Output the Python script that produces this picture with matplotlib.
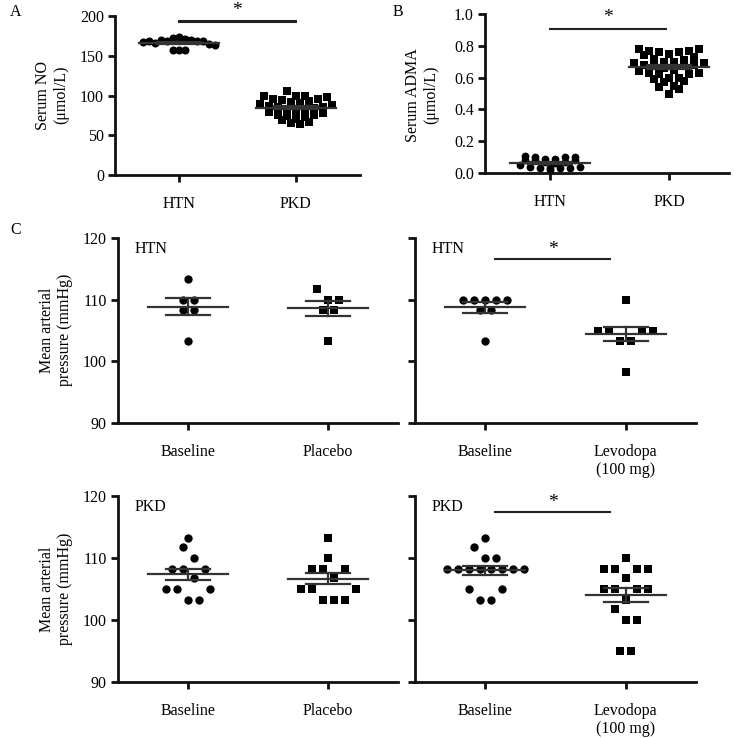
import numpy as np
import matplotlib
matplotlib.use("Agg")
import matplotlib.pyplot as plt

plt.rcParams['font.family'] = ['Liberation Serif', 'DejaVu Serif']

W, H = 734, 738

# ---------------- data ----------------
a_categories = ["HTN", "PKD"]
a_htn = [167, 168, 166, 170, 169, 172, 173, 171, 170, 169, 168, 165, 163, 157, 157, 157]
a_pkd = [106, 100, 99, 100, 98, 96, 95, 93, 94, 92, 90, 88, 89, 87, 86, 85, 84, 83, 82,
         80, 79, 78, 76, 75, 74, 73, 71, 69, 67, 65, 64]
a_yticks = [0, 50, 100, 150, 200]

b_categories = ["HTN", "PKD"]
b_htn = [0.11, 0.10, 0.10, 0.10, 0.09, 0.09, 0.08, 0.08, 0.08, 0.07, 0.07, 0.06, 0.05,
         0.04, 0.04, 0.03, 0.03, 0.03, 0.03, 0.02]
b_pkd = [0.78, 0.78, 0.77, 0.77, 0.76, 0.76, 0.75, 0.74, 0.73, 0.72, 0.71, 0.70, 0.70,
         0.69, 0.69, 0.68, 0.68, 0.67, 0.67, 0.66, 0.65, 0.64, 0.63, 0.63, 0.62, 0.62,
         0.60, 0.60, 0.59, 0.58, 0.57, 0.55, 0.54, 0.53, 0.50]
b_yticks = [0.0, 0.2, 0.4, 0.6, 0.8, 1.0]

c_yticks = [90, 100, 110, 120]
c_placebo_labels = ["Baseline", "Placebo"]
c_levodopa_labels = ["Baseline", "Levodopa\n(100 mg)"]

htn_base_placebo = [113.3, 110.0, 110.0, 108.3, 108.3, 103.3]
htn_placebo = [111.7, 110.0, 110.0, 108.3, 108.3, 103.3]
htn_base_levo = [110.0, 110.0, 110.0, 110.0, 110.0, 108.3, 108.3, 103.3]
htn_levo = [110.0, 105.0, 105.0, 105.0, 105.0, 103.3, 103.3, 98.3]

pkd_base_placebo = [113.3, 111.7, 110.0, 108.3, 108.3, 108.3, 106.7, 105.0, 105.0, 105.0,
                    103.3, 103.3]
pkd_placebo = [113.3, 110.0, 108.3, 108.3, 108.3, 106.7, 105.0, 105.0, 105.0, 103.3,
               103.3, 103.3]
pkd_base_levo = [113.3, 111.7, 110.0, 110.0, 108.3, 108.3, 108.3, 108.3, 108.3, 108.3,
                 108.3, 108.3, 105.0, 105.0, 103.3, 103.3]
pkd_levo = [110.0, 108.3, 108.3, 108.3, 108.3, 106.7, 105.0, 105.0, 105.0, 105.0,
            103.3, 101.7, 100.0, 100.0, 95.0, 95.0]

# ---------------- helpers ----------------
fig = plt.figure(figsize=(W / 100, H / 100), dpi=100)


def make_ax(left, top, right, bottom, xlim, ylim):
    ax = fig.add_axes([left / W, 1 - bottom / H, (right - left) / W, (bottom - top) / H])
    ax.set_xlim(*xlim)
    ax.set_ylim(*ylim)
    for s in ("top", "right"):
        ax.spines[s].set_visible(False)
    for s in ("left", "bottom"):
        ax.spines[s].set_linewidth(2.0)
        ax.spines[s].set_color("#111111")
    ax.tick_params(axis="both", direction="out", length=5, width=2.0, color="#111111",
                   labelsize=11.5, pad=3)
    ax.tick_params(axis="x", pad=10)
    ax.px_x = (right - left) / (xlim[1] - xlim[0])
    return ax


def swarm(ax, xc, vals, marker, ms, row_h, phase, sp_px, order="prism"):
    """Column scatter: values binned into rows; within a row the higher values go
    to the outer positions (prism) or keep list order (data)."""
    vals = np.asarray(vals, dtype=float)
    rows = np.floor((vals - phase) / row_h + 1e-6).astype(int)
    off = np.zeros(len(vals))
    for r in np.unique(rows):
        idx = np.where(rows == r)[0]
        n = len(idx)
        pos = (np.arange(n) - (n - 1) / 2) * sp_px / ax.px_x
        if order == "data":
            off[idx] = pos
            continue
        pos_order = sorted(range(n), key=lambda k: (-abs(round(pos[k], 6)), pos[k]))
        val_order = idx[np.argsort(-vals[idx], kind="stable")]
        for vi, pk in zip(val_order, pos_order):
            off[vi] = pos[pk]
    ax.plot(xc + off, vals, linestyle="none", marker=marker, ms=ms, color="black",
            markeredgewidth=0, clip_on=False, zorder=2)
    m = vals.mean()
    sem = vals.std(ddof=1) / np.sqrt(len(vals))
    mw = 40 / ax.px_x
    sw = 22 / ax.px_x
    kw = dict(color="#333333", lw=1.6, zorder=3, clip_on=False)
    ax.plot([xc - mw, xc + mw], [m, m], **kw)
    ax.plot([xc - sw, xc + sw], [m + sem, m + sem], **kw)
    ax.plot([xc - sw, xc + sw], [m - sem, m - sem], **kw)
    ax.plot([xc, xc], [m - sem, m + sem], **kw)


def sig(ax, x0, x1, y, ystar, lw=1.5, fs=14):
    ax.plot([x0, x1], [y, y], color="#222222", lw=lw, clip_on=False)
    ax.text((x0 + x1) / 2, ystar, "*", ha="center", va="center", fontsize=fs,
            clip_on=False)


# ---------------- Panel A ----------------
axA = make_ax(115, 16, 360, 175, (-0.55, 1.55), (0, 200))
axA.set_yticks(a_yticks)
axA.set_xticks([0, 1])
axA.set_xticklabels(a_categories)
swarm(axA, 0, a_htn, "o", 5.8, 15, 10, 6, order="data")
swarm(axA, 1, a_pkd, "s", 5.4, 10, 0, 9)
sig(axA, 0.0, 0.99, 194, 207, lw=2.2)
fig.text(52 / W, 1 - 95 / H, "Serum NO\n(μmol/L)", rotation=90, ha="center", va="center",
         fontsize=11.5, multialignment="center")
fig.text(10 / W, 1 - 12 / H, "A", fontsize=11.5, ha="left", va="center")

# ---------------- Panel B ----------------
axB = make_ax(485, 14, 729, 173, (-0.55, 1.5), (0, 1.0))
axB.set_yticks(b_yticks)
axB.set_yticklabels([f"{v:.1f}" for v in b_yticks])
axB.set_xticks([0, 1])
axB.set_xticklabels(b_categories)
swarm(axB, 0, b_htn, "o", 5.6, 0.03, 0.025, 10)
swarm(axB, 1, b_pkd, "s", 5.2, 0.05, 0.0, 10)
sig(axB, 0.0, 0.97, 0.906, 0.975)
fig.text(422 / W, 1 - 95 / H, "Serum ADMA\n(μmol/L)", rotation=90, ha="center",
         va="center", fontsize=11.5, multialignment="center")
fig.text(393 / W, 1 - 12 / H, "B", fontsize=11.5, ha="left", va="center")

# ---------------- Panel C ----------------
fig.text(10 / W, 1 - 230 / H, "C", fontsize=11.5, ha="left", va="center")


def c_panel(left, top, right, bottom, labels, g1, g2, tag, show_y, star):
    ax = make_ax(left, top, right, bottom, (-0.5, 1.5), (90, 120))
    ax.set_yticks(c_yticks)
    if not show_y:
        ax.set_yticklabels([])
    ax.set_xticks([0, 1])
    ax.set_xticklabels(labels)
    swarm(ax, 0, g1, "o", 6.0, 10 / 3, 89.1, 11)
    swarm(ax, 1, g2, "s", 5.8, 10 / 3, 89.1, 11)
    ax.text(-0.38, 118.2, tag, ha="left", va="center", fontsize=11.5)
    if star is not None:
        sig(ax, 0.07, 0.89, star, star + 1.6)
    return ax


c_panel(118, 238, 398, 423, c_placebo_labels, htn_base_placebo, htn_placebo, "HTN", True, None)
c_panel(415, 238, 696, 423, c_levodopa_labels, htn_base_levo, htn_levo, "HTN", False, 116.6)
c_panel(118, 496, 398, 682, c_placebo_labels, pkd_base_placebo, pkd_placebo, "PKD", True, None)
c_panel(415, 496, 696, 682, c_levodopa_labels, pkd_base_levo, pkd_levo, "PKD", False, 117.4)

for yc in (330, 589):
    fig.text(56 / W, 1 - yc / H, "Mean arterial\npressure (mmHg)", rotation=90, ha="center",
             va="center", fontsize=11.5, multialignment="center")

fig.savefig("out.png", dpi=100)
